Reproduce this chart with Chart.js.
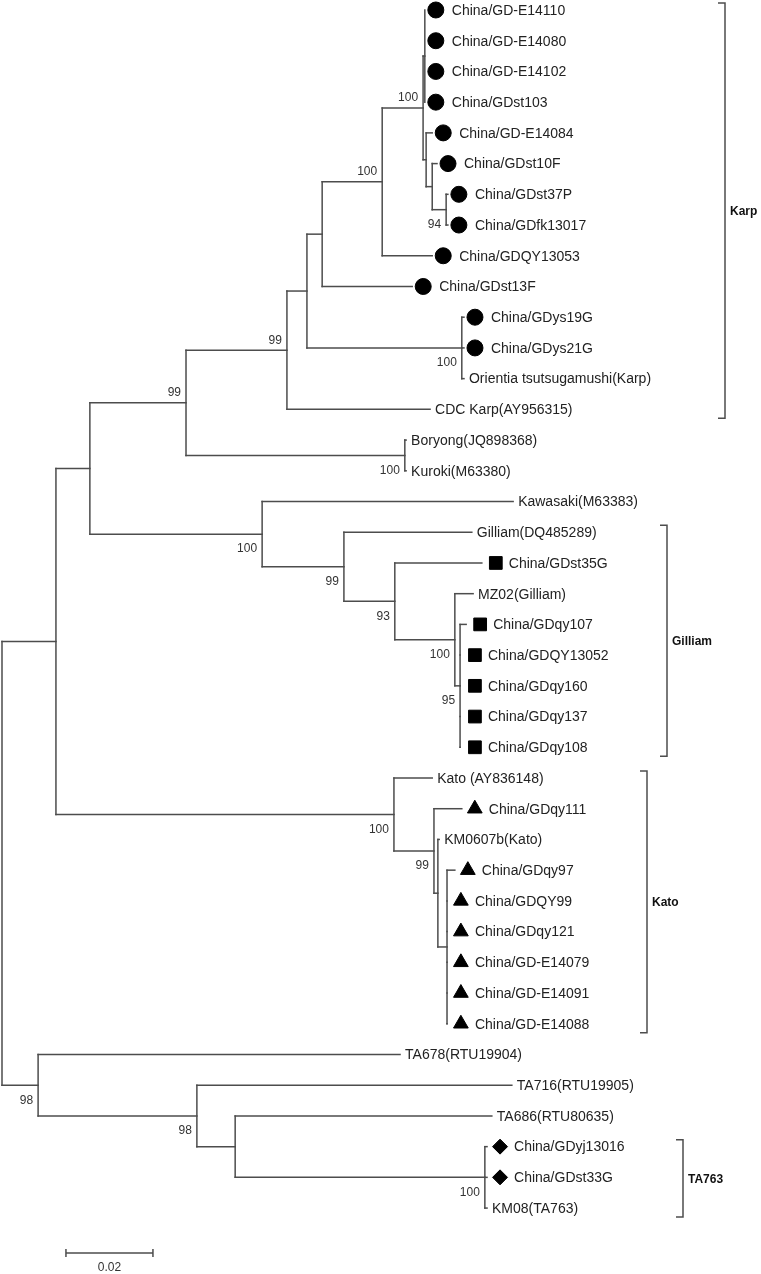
<!DOCTYPE html>
<html>
<head>
<meta charset="utf-8">
<script src="https://cdn.jsdelivr.net/npm/chart.js@4.4.0/dist/chart.umd.min.js"></script>
<style>
html, body { margin: 0; padding: 0; background: #fff; }
#wrap { width: 761px; height: 1274px; }
</style>
</head>
<body>
<div id="wrap"><canvas id="tree" width="761" height="1274"></canvas></div>
<script>
// leaves, top to bottom
const leafNames = [
  'China/GD-E14110', 'China/GD-E14080', 'China/GD-E14102', 'China/GDst103',
  'China/GD-E14084', 'China/GDst10F', 'China/GDst37P', 'China/GDfk13017',
  'China/GDQY13053', 'China/GDst13F', 'China/GDys19G', 'China/GDys21G',
  'Orientia tsutsugamushi(Karp)', 'CDC Karp(AY956315)', 'Boryong(JQ898368)', 'Kuroki(M63380)',
  'Kawasaki(M63383)', 'Gilliam(DQ485289)', 'China/GDst35G', 'MZ02(Gilliam)',
  'China/GDqy107', 'China/GDQY13052', 'China/GDqy160', 'China/GDqy137',
  'China/GDqy108', 'Kato (AY836148)', 'China/GDqy111', 'KM0607b(Kato)',
  'China/GDqy97', 'China/GDQY99', 'China/GDqy121', 'China/GD-E14079',
  'China/GD-E14091', 'China/GD-E14088', 'TA678(RTU19904)', 'TA716(RTU19905)',
  'TA686(RTU80635)', 'China/GDyj13016', 'China/GDst33G', 'KM08(TA763)'
];
const leafMarks = [
  'circle', 'circle', 'circle', 'circle', 'circle', 'circle', 'circle', 'circle',
  'circle', 'circle', 'circle', 'circle', null, null, null, null,
  null, null, 'rect', null, 'rect', 'rect', 'rect', 'rect',
  'rect', null, 'triangle', null, 'triangle', 'triangle', 'triangle', 'triangle',
  'triangle', 'triangle', null, null, null, 'rectRot', 'rectRot', null
];
// distance of each tip from the root (substitutions per site)
const leafDepth = [
  0.0972, 0.0972, 0.0972, 0.0972, 0.0989, 0.1000, 0.1025, 0.1025,
  0.0989, 0.0943, 0.1062, 0.1062, 0.1062, 0.0984, 0.0929, 0.0929,
  0.1175, 0.1080, 0.1103, 0.1083, 0.1067, 0.1055, 0.1055, 0.1055,
  0.1055, 0.0989, 0.1057, 0.1005, 0.1041, 0.1025, 0.1025, 0.1025,
  0.1025, 0.1025, 0.0915, 0.1172, 0.1126, 0.1115, 0.1115, 0.1115
];

// internal nodes: numbers in nodeKids are leaves, strings are other nodes
const nodeNames = ['D', 'C', 'A2', 'A1', 'A', 'K1b', 'K1a', 'Ys', 'K1', 'Karp', 'Bor', 'KB',
  'G4', 'G3', 'G2', 'Gil', 'Kaw', 'KGa', 'K4', 'K3', 'K2', 'Kato', 'KGK',
  'TAc', 'T3', 'T2', 'T1', 'root'];
const nodeDepth = [0.1021, 0.0989, 0.0975, 0.0972, 0.0968, 0.0874, 0.0736, 0.1057, 0.0701, 0.0655, 0.0926, 0.0423,
  0.1053, 0.1041, 0.0903, 0.0786, 0.0598, 0.0202, 0.1023, 0.1002, 0.0993, 0.0901, 0.0124,
  0.1110, 0.0536, 0.0448, 0.0083, 0];
const nodeKids = [
  [6, 7], [5, 'D'], [4, 'C'], [0, 1, 2, 3], ['A1', 'A2'], ['A', 8], ['K1b', 9], [10, 11, 12],
  ['K1a', 'Ys'], ['K1', 13], [14, 15], ['Karp', 'Bor'],
  [20, 21, 22, 23, 24], [19, 'G4'], [18, 'G3'], [17, 'G2'], [16, 'Gil'], ['KB', 'Kaw'],
  [28, 29, 30, 31, 32, 33], [27, 'K4'], [26, 'K3'], [25, 'K2'], ['KGa', 'Kato'],
  [37, 38, 39], [36, 'TAc'], [35, 'T3'], [34, 'T2'], ['KGK', 'T1']
];
const bootValues = [94, null, null, null, 100, 100, null, 100, null, 99, 100, 99,
  95, 100, 93, 99, 100, null, null, null, 99, 100, null,
  100, null, 98, 98, null];
const bootSide = ['b', '', '', '', 'a', 'a', '', 'b', '', 'a', 'b', 'a',
  'b', 'b', 'b', 'b', 'b', '', '', '', 'b', 'b', '',
  'b', '', 'b', 'b', ''];

const cladeNames = ['Karp', 'Gilliam', 'Kato', 'TA763'];
const cladeFirst = [0, 17, 25, 37];
const cladeLast = [13, 24, 33, 39];
const scaleBarValue = 0.02;

const X_MIN = -0.00046, X_MAX = 0.17448;
const Y_MIN = -0.3255, Y_MAX = 41.146;
const pxPerUnit = 761 / (X_MAX - X_MIN);

const nodeIndex = {};
nodeNames.forEach((n, i) => { nodeIndex[n] = i; });
const yCache = {};
function kidPos(k) {
  if (typeof k === 'number') return { x: leafDepth[k], y: k };
  const i = nodeIndex[k];
  return { x: nodeDepth[i], y: nodeY(i) };
}
function nodeY(i) {
  if (yCache[i] !== undefined) return yCache[i];
  const ks = nodeKids[i];
  const y = (kidPos(ks[0]).y + kidPos(ks[ks.length - 1]).y) / 2;
  yCache[i] = y;
  return y;
}

const lineColor = '#4d4d4d';
const datasets = [];
nodeNames.forEach((n, i) => {
  const x0 = nodeDepth[i];
  const kids = nodeKids[i].map(kidPos);
  const segs = [[{ x: x0, y: kids[0].y }, { x: x0, y: kids[kids.length - 1].y }]];
  kids.forEach(k => {
    if (k.x > x0) segs.push([{ x: x0, y: k.y }, { x: k.x, y: k.y }]);
  });
  segs.forEach(s => {
    datasets.push({
      data: s,
      showLine: true,
      borderColor: lineColor,
      borderWidth: 1.5,
      borderCapStyle: 'square',
      pointRadius: 0
    });
  });
});

const markStyle = {
  circle: { r: 8, gap: 11 },
  rect: { r: 9, gap: 14 },
  triangle: { r: 8.5, gap: 13 },
  rectRot: { r: 7.5, gap: 13 }
};
Object.keys(markStyle).forEach(m => {
  const pts = [];
  leafMarks.forEach((mk, i) => {
    if (mk === m) pts.push({ x: leafDepth[i] + markStyle[m].gap / pxPerUnit, y: i });
  });
  datasets.push({
    data: pts,
    pointStyle: m,
    pointRadius: markStyle[m].r,
    backgroundColor: '#000',
    borderColor: '#000',
    borderWidth: 1
  });
});

const treeLabels = {
  id: 'treeLabels',
  afterDatasetsDraw(chart, args, opts) {
    const ctx = chart.ctx, xs = chart.scales.x, ys = chart.scales.y;
    ctx.save();
    ctx.fillStyle = '#222';
    ctx.textBaseline = 'middle';
    ctx.font = '14px "Liberation Sans", Arial, sans-serif';
    leafNames.forEach((name, i) => {
      const px = xs.getPixelForValue(leafDepth[i]) + (leafMarks[i] ? 27 : 5);
      ctx.fillText(name, px, ys.getPixelForValue(i) + 1);
    });

    ctx.font = '12px "Liberation Sans", Arial, sans-serif';
    ctx.fillStyle = '#333';
    ctx.textAlign = 'right';
    nodeNames.forEach((n, i) => {
      if (bootValues[i] == null) return;
      const px = xs.getPixelForValue(nodeDepth[i]) - 5;
      const py = ys.getPixelForValue(nodeY(i)) + (bootSide[i] === 'a' ? -10 : 15);
      ctx.fillText(String(bootValues[i]), px, py);
    });

    // clade brackets
    ctx.strokeStyle = lineColor;
    ctx.lineWidth = 1.5;
    ctx.textAlign = 'left';
    ctx.fillStyle = '#111';
    ctx.font = 'bold 12px "Liberation Sans", Arial, sans-serif';
    cladeNames.forEach((c, k) => {
      const bx = opts.bracketX[k];
      const y0 = ys.getPixelForValue(cladeFirst[k]) - 7;
      const y1 = ys.getPixelForValue(cladeLast[k]) + 9;
      ctx.beginPath();
      ctx.moveTo(bx - 7, y0);
      ctx.lineTo(bx, y0);
      ctx.lineTo(bx, y1);
      ctx.lineTo(bx - 7, y1);
      ctx.stroke();
      ctx.fillText(c, bx + 5, (y0 + y1) / 2 + 1);
    });

    // scale bar
    const sx0 = xs.getPixelForValue(opts.scaleStart);
    const sx1 = xs.getPixelForValue(opts.scaleStart + scaleBarValue);
    const sy = ys.getPixelForValue(leafNames.length - 1) + 45;
    ctx.beginPath();
    ctx.moveTo(sx0, sy); ctx.lineTo(sx1, sy);
    ctx.moveTo(sx0, sy - 4); ctx.lineTo(sx0, sy + 4);
    ctx.moveTo(sx1, sy - 4); ctx.lineTo(sx1, sy + 4);
    ctx.stroke();
    ctx.font = '12px "Liberation Sans", Arial, sans-serif';
    ctx.fillStyle = '#333';
    ctx.textAlign = 'center';
    ctx.fillText(String(scaleBarValue), (sx0 + sx1) / 2, sy + 15);
    ctx.restore();
  }
};

new Chart(document.getElementById('tree'), {
  type: 'scatter',
  data: { datasets: datasets },
  options: {
    responsive: false,
    animation: false,
    events: [],
    layout: { padding: 0, autoPadding: false },
    plugins: {
      legend: { display: false },
      tooltip: { enabled: false },
      treeLabels: { bracketX: [725, 667, 647, 683], scaleStart: 0.0147 }
    },
    scales: {
      x: { type: 'linear', display: false, min: X_MIN, max: X_MAX },
      y: { type: 'linear', display: false, reverse: true, min: Y_MIN, max: Y_MAX }
    }
  },
  plugins: [treeLabels]
});
</script>
</body>
</html>
